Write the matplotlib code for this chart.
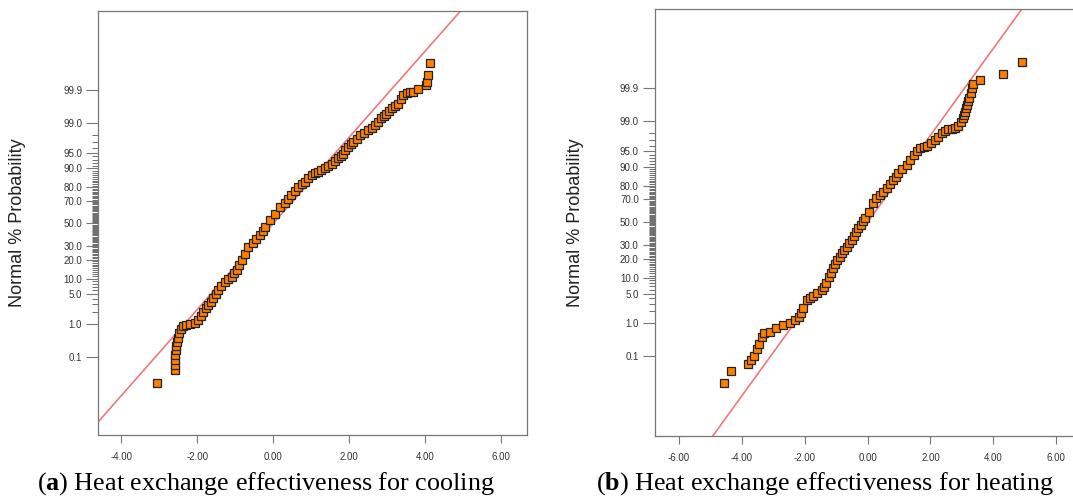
import math
from statistics import NormalDist
import numpy as np
import matplotlib
matplotlib.use('Agg')
import matplotlib.pyplot as plt

plt.rcParams['font.family'] = 'Liberation Sans'
plt.rcParams['axes.unicode_minus'] = False
plt.rcParams['mathtext.fontset'] = 'custom'
plt.rcParams['mathtext.rm'] = 'Liberation Serif'
plt.rcParams['mathtext.bf'] = 'Liberation Serif:bold'

# residuals (x) and normal % probability (y)
cool_resid = [-3.07, -2.59, -2.59, -2.59, -2.58, -2.56, -2.55, -2.53, -2.50, -2.47,
              -2.43, -2.38, -2.30, -2.18, -2.06, -1.97, -1.90, -1.84, -1.77, -1.71,
              -1.64, -1.58, -1.51, -1.45, -1.36, -1.27, -1.18, -1.09, -1.02, -0.96,
              -0.89, -0.83, -0.74, -0.66, -0.53, -0.44, -0.35, -0.28, -0.22, -0.09,
              0.04, 0.18, 0.31, 0.40, 0.48, 0.57, 0.66, 0.75, 0.83, 0.92,
              1.01, 1.10, 1.18, 1.27, 1.36, 1.45, 1.54, 1.62, 1.71, 1.78,
              1.84, 1.90, 1.97, 2.04, 2.11, 2.20, 2.28, 2.39, 2.50, 2.59,
              2.68, 2.76, 2.85, 2.92, 2.98, 3.05, 3.12, 3.20, 3.29, 3.36,
              3.42, 3.51, 3.60, 3.68, 3.82, 4.02, 4.04, 4.08, 4.14]
cool_prob = [0.011, 0.034, 0.052, 0.076, 0.114, 0.164, 0.22, 0.30, 0.40, 0.54,
             0.71, 0.84, 0.91, 0.96, 1.02, 1.25, 1.62, 2.02, 2.44, 2.87,
             3.44, 4.09, 5.05, 6.06, 7.35, 8.85, 9.68, 10.75, 12.30, 14.01,
             16.85, 19.77, 24.20, 29.46, 32.28, 35.57, 39.36, 43.25, 46.81, 53.19,
             59.10, 65.17, 68.44, 71.57, 74.54, 77.34, 80.23, 81.86, 83.40, 85.31,
             86.86, 87.70, 88.49, 89.25, 89.97, 90.82, 91.77, 92.65, 93.45, 94.06,
             94.74, 95.54, 96.25, 96.71, 97.06, 97.56, 97.98, 98.21, 98.46, 98.68,
             98.87, 99.09, 99.27, 99.38, 99.46, 99.55, 99.62, 99.67, 99.73, 99.80,
             99.856, 99.878, 99.882, 99.886, 99.906, 99.934, 99.950, 99.971, 99.990]

heat_resid = [-4.57, -4.34, -3.81, -3.72, -3.60, -3.53, -3.44, -3.37, -3.28, -3.10,
              -2.91, -2.70, -2.45, -2.30, -2.17, -2.10, -2.04, -1.94, -1.84, -1.73,
              -1.60, -1.46, -1.39, -1.32, -1.22, -1.15, -1.09, -1.02, -0.96, -0.89,
              -0.82, -0.74, -0.66, -0.58, -0.51, -0.44, -0.37, -0.29, -0.22, -0.15,
              -0.08, 0.05, 0.18, 0.28, 0.39, 0.50, 0.61, 0.70, 0.80, 0.89,
              0.98, 1.11, 1.24, 1.36, 1.48, 1.57, 1.67, 1.78, 1.90, 2.02,
              2.14, 2.25, 2.36, 2.47, 2.57, 2.68, 2.78, 2.88, 2.96, 3.02,
              3.06, 3.10, 3.14, 3.17, 3.20, 3.23, 3.28, 3.31, 3.34, 3.57,
              4.30, 4.92]
heat_prob = [0.011, 0.032, 0.056, 0.076, 0.107, 0.175, 0.256, 0.40, 0.54, 0.57,
             0.73, 0.91, 1.04, 1.19, 1.50, 1.88, 2.39, 3.67, 4.09, 4.46,
             5.05, 5.94, 6.94, 8.08, 10.56, 12.30, 14.46, 16.85, 19.22, 21.48,
             23.89, 26.11, 28.77, 31.56, 34.09, 37.83, 41.29, 44.43, 47.61, 50.80,
             53.59, 59.48, 67.00, 70.88, 73.57, 75.80, 78.23, 81.06, 83.40, 85.31,
             87.08, 88.88, 90.66, 92.51, 93.94, 94.84, 95.54, 95.82, 96.08, 96.56,
             97.06, 97.56, 97.98, 98.21, 98.38, 98.42, 98.46, 98.68, 98.96, 99.16,
             99.31, 99.45, 99.56, 99.65, 99.73, 99.78, 99.856, 99.903, 99.924, 99.946,
             99.968, 99.989]

prob_ticks = [0.1, 1.0, 5.0, 10.0, 20.0, 30.0, 50.0, 70.0, 80.0, 90.0, 95.0, 99.0, 99.9]
cool_xticks = [-4, -2, 0, 2, 4, 6]
heat_xticks = [-6, -4, -2, 0, 2, 4, 6]
captions = ["a", "b"]
caption_text = ["Heat exchange effectiveness for cooling",
                "Heat exchange effectiveness for heating"]

nd = NormalDist()


def to_z(p):
    p = np.clip(np.asarray(p, dtype=float) / 100.0, 1e-15, 1 - 1e-15)
    return np.vectorize(nd.inv_cdf, otypes=[float])(p)


def to_p(z):
    z = np.asarray(z, dtype=float)
    return 100.0 * np.vectorize(nd.cdf, otypes=[float])(z)


W, H = 1073, 497
fig = plt.figure(figsize=(W / 100, H / 100), dpi=100)

# axes boxes in pixels: left, top, right, bottom
boxes = [(98, 11, 527, 435), (654.6, 9.3, 1080.5, 436)]
xlims = [(-4.61, 6.68), (-6.77, 6.77)]
zlims = [(-4.91, 4.93), (-4.92, 4.90)]
label_x = [18, 575]
cap_x = [266, 825]
data = [(cool_resid, cool_prob, cool_xticks), (heat_resid, heat_prob, heat_xticks)]

for i, (resid, prob, xt) in enumerate(data):
    l, t, r, b = boxes[i]
    ax = fig.add_axes([l / W, 1 - b / H, (r - l) / W, (b - t) / H])
    ax.set_yscale('function', functions=(to_z, to_p))

    # normal reference line
    line_x = np.array([-7.0, 7.0])
    ax.plot(line_x, to_p(line_x), color='#f07878', lw=1.2, zorder=1)

    ax.plot(resid, prob, 's', ms=5.7, mfc='#ff8000', mec='#222222', mew=0.9, zorder=2)

    ax.set_xlim(*xlims[i])
    ax.set_ylim(to_p(zlims[i][0]), to_p(zlims[i][1]))

    ax.set_xticks(xt)
    ax.set_xticklabels(['%.2f' % v for v in xt])
    ax.set_yticks(prob_ticks)
    ax.set_yticklabels(['%.1f' % v for v in prob_ticks])
    ax.set_yticks(list(range(1, 100)), minor=True)
    ax.tick_params(axis='x', length=6, width=0.8, color='#777777', pad=6,
                   labelsize=7, labelcolor='#333333')
    ax.tick_params(axis='y', which='major', length=8.4, width=0.8, color='#777777',
                   pad=3, labelsize=7, labelcolor='#333333')
    ax.tick_params(axis='y', which='minor', length=4, width=0.6, color='#555555')
    for s in ax.spines.values():
        s.set_color('#777777')
        s.set_linewidth(0.9)

    fig.text(label_x[i] / W, 1 - ((t + b) / 2) / H, 'Normal % Probability',
             rotation=90, ha='center', va='center', fontsize=13, color='#222222')
    fig.text(cap_x[i] / W, 1 - 484 / H,
             r'($\mathbf{%s}$) %s' % (captions[i], caption_text[i]),
             ha='center', va='center', fontsize=18.8, family='Liberation Serif')

fig.savefig('out.png', dpi=100)
